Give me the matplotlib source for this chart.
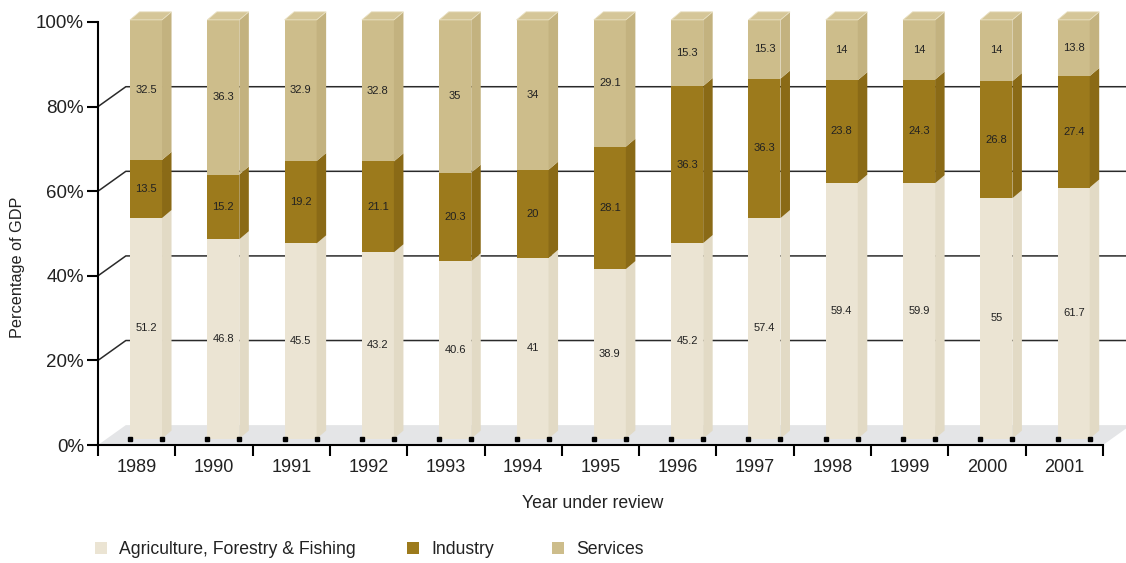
import numpy as np
import matplotlib.pyplot as plt
from matplotlib.patches import Polygon, Rectangle, Patch

plt.rcParams['font.family'] = ['Liberation Sans', 'DejaVu Sans']

years = ['1989', '1990', '1991', '1992', '1993', '1994', '1995',
         '1996', '1997', '1998', '1999', '2000', '2001']
agriculture = [51.2, 46.8, 45.5, 43.2, 40.6, 41, 38.9, 45.2, 57.4, 59.4, 59.9, 55, 61.7]
industry = [13.5, 15.2, 19.2, 21.1, 20.3, 20, 28.1, 36.3, 36.3, 23.8, 24.3, 26.8, 27.4]
services = [32.5, 36.3, 32.9, 32.8, 35, 34, 29.1, 15.3, 15.3, 14, 14, 14, 13.8]
series_names = ['Agriculture, Forestry & Fishing', 'Industry', 'Services']
y_ticks = [0, 20, 40, 60, 80, 100]

front_colors = ['#ebe4d3', '#9c7a1c', '#cdbd8b']
side_colors = ['#e2dac5', '#8a6a16', '#c3b27f']
top_colors = ['#efe9da', '#a8862a', '#d5c698']

# pseudo-3d geometry (data units: categories / percent)
FLOOR_DX, FLOOR_DY = 0.36, 4.7
BAR_X0, BAR_W = 0.414, 0.414
BAR_DX, BAR_DY = 0.123, 1.9
BASE, SCALE = 1.5, 0.99

fig = plt.figure(figsize=(11.26, 5.63), dpi=100)
ax = fig.add_axes([98 / 1126, (563 - 445) / 563, 1005 / 1126, 423 / 563])
n = len(years)
ax.set_xlim(0, n)
ax.set_ylim(0, 100)

# floor and back-wall gridlines
ax.add_patch(Polygon([(0, 0), (n, 0), (n + FLOOR_DX, FLOOR_DY), (FLOOR_DX, FLOOR_DY)],
                     closed=True, fc='#e4e5e7', ec='none', zorder=0.5, clip_on=False))
for v in y_ticks[1:-1]:
    ax.plot([0, FLOOR_DX, n + FLOOR_DX], [v, v + FLOOR_DY, v + FLOOR_DY],
            color='#2a2a2a', lw=1.1, zorder=1, clip_on=False)

data = np.array([agriculture, industry, services])
totals = data.sum(axis=0)
for i in range(n):
    x0 = i + BAR_X0
    bottom = 0.0
    for s in range(3):
        pct = data[s, i] / totals[i] * 100
        y0 = BASE + SCALE * bottom
        y1 = BASE + SCALE * (bottom + pct)
        ax.add_patch(Rectangle((x0, y0), BAR_W, y1 - y0, fc=front_colors[s],
                               ec='none', zorder=3, clip_on=False))
        ax.add_patch(Polygon([(x0 + BAR_W, y0), (x0 + BAR_W + BAR_DX, y0 + BAR_DY),
                              (x0 + BAR_W + BAR_DX, y1 + BAR_DY), (x0 + BAR_W, y1)],
                             closed=True, fc=side_colors[s], ec='none', zorder=3, clip_on=False))
        if s == 2:
            ax.add_patch(Polygon([(x0, y1), (x0 + BAR_DX, y1 + BAR_DY),
                                  (x0 + BAR_W + BAR_DX, y1 + BAR_DY), (x0 + BAR_W, y1)],
                                 closed=True, fc=top_colors[s], ec='#e8dfc0', lw=0.6,
                                 zorder=3, clip_on=False))
        ax.text(x0 + BAR_W / 2, (y0 + y1) / 2, f'{data[s, i]:g}', ha='center', va='center',
                fontsize=8, color='#222222', zorder=5)
        bottom += pct
    # small base markers
    ax.plot([x0, x0 + BAR_W], [BASE, BASE], ls='none', marker='s', ms=2.2,
            color='black', zorder=4, clip_on=False)

# axes lines and ticks
for side in ['top', 'right']:
    ax.spines[side].set_visible(False)
ax.spines['left'].set_linewidth(1.5)
ax.spines['bottom'].set_linewidth(1.5)
ax.spines['left'].set_zorder(6)
ax.set_yticks(y_ticks)
ax.set_yticklabels([f'{v}%' for v in y_ticks])
ax.tick_params(axis='y', length=8, width=1.5, pad=2, labelsize=13.5, labelcolor='#222222')
ax.set_xticks(np.arange(n + 1))
ax.set_xticklabels([])
ax.set_xticks(np.arange(n) + 0.5, minor=True)
ax.set_xticklabels(years, minor=True)
ax.tick_params(axis='x', which='major', length=8, width=1.5)
ax.tick_params(axis='x', which='minor', length=0, pad=10, labelsize=13, labelcolor='#222222')

fig.text(18 / 1126, 1 - 267 / 563, 'Percentage of GDP', rotation=90, ha='center', va='center',
         fontsize=11.7, color='#222222')
fig.text(593 / 1126, 1 - 504 / 563, 'Year under review', ha='center', va='center',
         fontsize=12.7, color='#222222')

legend_x = [95, 407, 552]
for s in range(3):
    fig.legend(handles=[Patch(fc=front_colors[s], ec='none', label=series_names[s])],
               loc='center left', bbox_to_anchor=(legend_x[s] / 1126, 1 - 550 / 563),
               frameon=False, fontsize=12.7, handlelength=0.68, handleheight=0.68,
               handletextpad=0.68, borderpad=0, borderaxespad=0, labelcolor='#222222')

fig.savefig('out.png', dpi=100)
